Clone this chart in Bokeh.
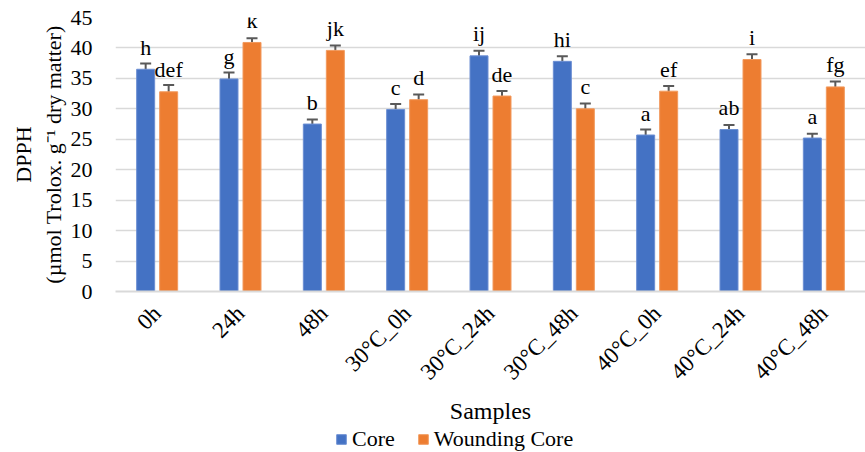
from bokeh.plotting import figure
from bokeh.models import ColumnDataSource, Whisker, Legend, LegendItem
from bokeh.layouts import column
from bokeh.transform import dodge
from bokeh.core.properties import value
from bokeh.embed import file_html
from bokeh.resources import INLINE
import math

samples = ["0h", "24h", "48h", "30°C_0h", "30°C_24h", "30°C_48h", "40°C_0h", "40°C_24h", "40°C_48h"]
core = [36.5, 34.9, 27.5, 29.9, 38.7, 37.8, 25.7, 26.6, 25.2]
core_err = [0.95, 1.05, 0.75, 0.9, 0.85, 0.82, 0.9, 0.75, 0.7]
core_letters = ["h", "g", "b", "c", "ij", "hi", "a", "ab", "a"]
wound = [32.8, 40.9, 39.6, 31.5, 32.1, 30.0, 32.9, 38.1, 33.6]
wound_err = [1.1, 0.7, 0.8, 0.87, 0.84, 0.87, 0.85, 0.85, 0.9]
wound_letters = ["def", "k", "jk", "d", "de", "c", "ef", "i", "fg"]
series_names = ["Core", "Wounding Core"]

FONT = "Liberation Serif"
BLUE = "#4472C4"
ORANGE = "#ED7D31"

src = ColumnDataSource(dict(
    cat=samples, core=core, core_lo=[v - e for v, e in zip(core, core_err)],
    core_hi=[v + e for v, e in zip(core, core_err)], core_lab=core_letters,
    wound=wound, wound_lo=[v - e for v, e in zip(wound, wound_err)],
    wound_hi=[v + e for v, e in zip(wound, wound_err)], wound_lab=wound_letters,
))

p = figure(x_range=samples, y_range=(0, 45), width=865, height=427,
           output_backend="svg", toolbar_location=None,
           min_border_left=115, min_border_right=0, min_border_top=17, min_border_bottom=134)
p.outline_line_color = None
p.background_fill_color = "white"

off = 0.138
bw = 0.216
p.vbar(x=dodge("cat", -off, range=p.x_range), top="core", width=bw, source=src,
       fill_color=BLUE, line_color="#6C8FD3", line_width=1)
p.vbar(x=dodge("cat", off, range=p.x_range), top="wound", width=bw, source=src,
       fill_color=ORANGE, line_color="#F29A5E", line_width=1)

for xo, lo, hi in [(-off, "core_lo", "core_hi"), (off, "wound_lo", "wound_hi")]:
    w = Whisker(base=dodge("cat", xo, range=p.x_range), lower=lo, upper=hi, source=src,
                line_color="#595959", line_width=2)
    for head in (w.upper_head, w.lower_head):
        head.size = 11
        head.line_color = "#595959"
        head.line_width = 2
    p.add_layout(w)

for xo, top, lab in [(-off, "core", "core_lab"), (off, "wound", "wound_lab")]:
    p.text(x=dodge("cat", xo, range=p.x_range), y=top, text=lab, source=src,
           text_font=value(FONT), text_font_size="22px", text_align="center",
           text_baseline="alphabetic", y_offset=-22, text_color="black")

p.yaxis.ticker = list(range(0, 46, 5))
p.ygrid.grid_line_color = "#D9D9D9"
p.ygrid.grid_line_width = 1.5
p.xgrid.grid_line_color = None
p.yaxis.axis_line_color = None
p.yaxis.major_tick_line_color = None
p.yaxis.minor_tick_line_color = None
p.yaxis.major_label_text_font = FONT
p.yaxis.major_label_text_font_size = "22px"
p.yaxis.major_label_text_color = "black"
p.yaxis.major_label_standoff = 17
p.yaxis.axis_label = "DPPH\n(µmol Trolox. g⁻¹ dry matter)"
p.yaxis.axis_label_text_font = FONT
p.yaxis.axis_label_text_font_size = "22px"
p.yaxis.axis_label_text_font_style = "normal"
p.yaxis.axis_label_text_color = "black"
p.yaxis.axis_label_standoff = 2

p.xaxis.axis_line_color = "#D9D9D9"
p.xaxis.axis_line_width = 2
p.xaxis.major_tick_line_color = None
p.xaxis.minor_tick_line_color = None
p.xaxis.major_label_orientation = math.pi / 4
p.xaxis.major_label_text_font = FONT
p.xaxis.major_label_text_font_size = "23px"
p.xaxis.major_label_text_color = "black"
p.xaxis.major_label_standoff = 12
p.xaxis.axis_label = "Samples"
p.xaxis.axis_label_text_font = FONT
p.xaxis.axis_label_text_font_size = "24px"
p.xaxis.axis_label_text_font_style = "normal"
p.xaxis.axis_label_text_color = "black"
p.xaxis.axis_label_standoff = 2

# legend strip below the chart (keys drawn off-range so only the legend shows)
q = figure(width=865, height=25, x_range=(0, 1), y_range=(0, 1),
           output_backend="svg", toolbar_location=None,
           x_axis_location=None, y_axis_location=None, min_border=0)
q.outline_line_color = None
q.grid.visible = False
key_src = ColumnDataSource(dict(x=[0.5], top=[-1.0], bottom=[-2.0]))
g1 = q.vbar(x="x", top="top", bottom="bottom", width=0.1, source=key_src,
            fill_color=BLUE, line_color="#6C8FD3")
g2 = q.vbar(x="x", top="top", bottom="bottom", width=0.1, source=key_src,
            fill_color=ORANGE, line_color="#F29A5E")
legend = Legend(items=[LegendItem(label=series_names[0], renderers=[g1]),
                       LegendItem(label=series_names[1], renderers=[g2])],
                orientation="horizontal", location=(220, 0),
                label_text_font=FONT, label_text_font_size="22px", label_text_color="black",
                label_height=16, glyph_width=12, glyph_height=12, spacing=22,
                padding=0, margin=0, background_fill_alpha=0,
                border_line_color=None, label_standoff=5)
q.add_layout(legend, "center")

layout = column(p, q, spacing=0)
open("out.html", "w").write(file_html(layout, INLINE))
